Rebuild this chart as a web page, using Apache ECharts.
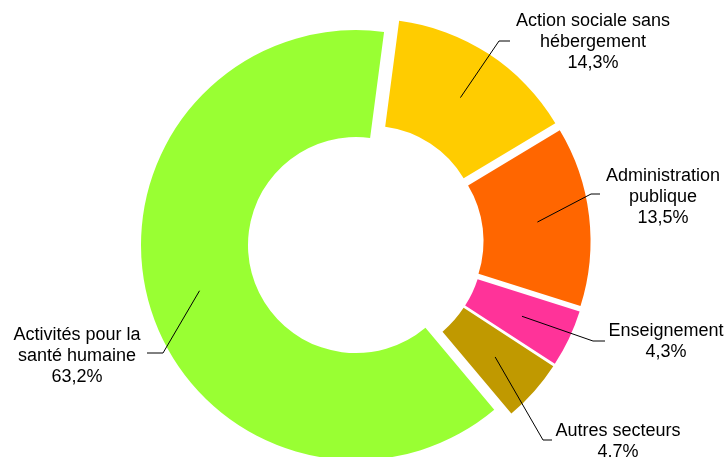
<!DOCTYPE html>
<html><head><meta charset="utf-8">
<script src="https://cdn.jsdelivr.net/npm/echarts@6/dist/echarts.min.js"></script>
<style>html,body{margin:0;padding:0;background:#fff;overflow:hidden}#c{width:728px;height:457px}</style>
</head><body><div id="c"></div>
<script>
// ---- data ----
const categories = ['Action sociale sans\nhébergement', 'Administration\npublique', 'Enseignement', 'Autres secteurs', 'Activités pour la\nsanté humaine'];
const shares = [14.3, 13.5, 4.3, 4.7, 63.2];
const colors = ['#FFCC00', '#FF6600', '#FF3399', '#C09900', '#99FF33'];

// ---- layout ----
const CX = 365.6, CY = 242.3, R_IN = 108, R_OUT = 215, EXPLODE = 10, START = 7.5;
// label centre x, label centre y, leader elbow x, leader end x, leader y
const labelPlace = [
  [593, 42, 499, 510, 41],
  [663, 197, 591, 600, 194],
  [666, 342, 593, 605, 341],
  [618, 442, 543, 552, 440],
  [77, 356, 163, 147, 353]
];

const total = shares.reduce((a, b) => a + b, 0);
function anchor(i) {
  const before = shares.slice(0, i).reduce((a, b) => a + b, 0);
  const mid = (START + (before + shares[i] / 2) / total * 360) * Math.PI / 180;
  const r = EXPLODE + (R_IN + R_OUT) / 2 + 1.5;
  return [CX + r * Math.sin(mid), CY - r * Math.cos(mid)];
}
const fmt = v => v.toFixed(1).replace('.', ',') + '%';

const graphics = [];
categories.forEach((name, i) => {
  const L = labelPlace[i];
  graphics.push({
    type: 'polyline', z: 100, silent: true,
    shape: {points: [anchor(i), [L[2], L[4]], [L[3], L[4]]]},
    style: {stroke: '#000', lineWidth: 1, fill: null}
  });
  graphics.push({
    type: 'text', z: 100, silent: true, x: L[0], y: L[1],
    style: {
      text: name + '\n' + fmt(shares[i]),
      align: 'center', verticalAlign: 'middle',
      fontFamily: '"Liberation Sans", Arial, sans-serif',
      fontSize: 18, lineHeight: 21, fill: '#000'
    }
  });
});

const chart = echarts.init(document.getElementById('c'), null, {renderer: 'canvas'});
chart.setOption({
  animation: false,
  backgroundColor: '#fff',
  series: [{
    type: 'pie',
    center: [CX, CY],
    radius: [R_IN, R_OUT],
    startAngle: 90 - START,
    clockwise: true,
    selectedMode: 'multiple',
    selectedOffset: EXPLODE,
    avoidLabelOverlap: false,
    emphasis: {disabled: true},
    itemStyle: {borderWidth: 0},
    label: {show: false},
    labelLine: {show: false},
    data: categories.map((n, i) => ({name: n, value: shares[i], selected: true, itemStyle: {color: colors[i]}}))
  }],
  graphic: graphics
});
</script>
</body></html>
